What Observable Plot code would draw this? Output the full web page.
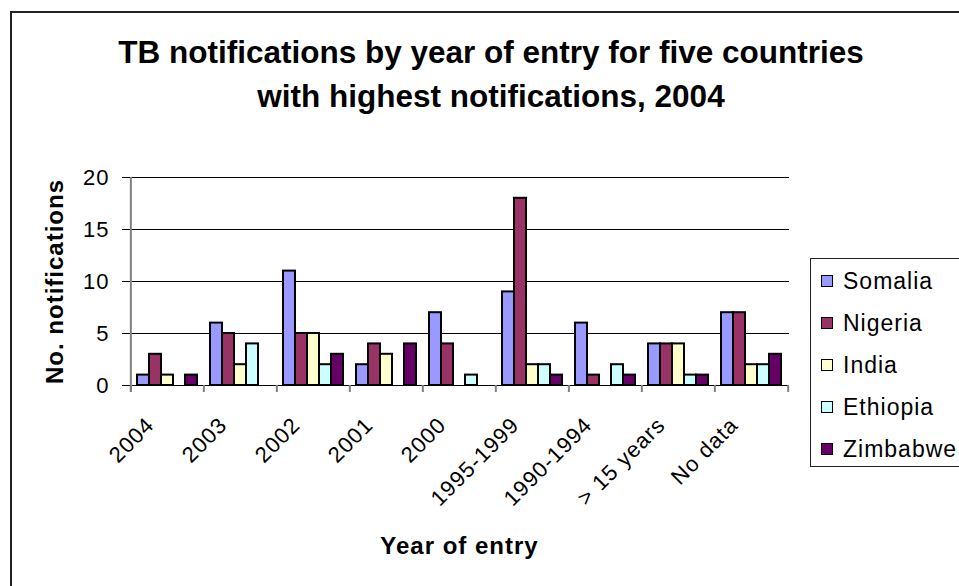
<!DOCTYPE html>
<html>
<head>
<meta charset="utf-8">
<script src="https://cdn.jsdelivr.net/npm/d3@7"></script>
<script src="https://cdn.jsdelivr.net/npm/@observablehq/plot@0.6"></script>
<style>
  html, body { margin: 0; padding: 0; background: #fff; }
  #wrap { position: relative; width: 959px; height: 586px; overflow: hidden; font-family: "Liberation Sans", Arial, sans-serif; }
  #frame { position: absolute; left: 10px; top: 11px; width: 1000px; height: 1000px; border: 2px solid #222; box-sizing: border-box; }
  #title { position: absolute; left: 10px; width: 962px; top: 30px; text-align: center; font-weight: bold; font-size: 31.5px; line-height: 44px; color: #000; }
  #chart { position: absolute; left: 0; top: 0; }
  #legend { position: absolute; left: 810px; top: 258px; width: 170px; height: 209px; border: 1.5px solid #222; box-sizing: border-box; background: #fff; }
  .item { position: absolute; left: 10px; height: 24px; display: flex; align-items: center; font-size: 23px; letter-spacing: 1px; color: #000; }
  .sw { width: 12px; height: 12px; border: 1.5px solid #000; box-sizing: border-box; margin-right: 10px; }
  #chart svg text { letter-spacing: 1px; }
</style>
</head>
<body>
<div id="wrap">
  <div id="frame"></div>
  <div id="chart"></div>
  <div id="title">TB notifications by year of entry for five countries<br>with highest notifications, 2004</div>
  <div id="legend"></div>
</div>
<script>
// Year-of-entry groups and the five countries shown in each group
const categories = ["2004", "2003", "2002", "2001", "2000", "1995-1999", "1990-1994", "> 15 years", "No data"];
const countries = ["Somalia", "Nigeria", "India", "Ethiopia", "Zimbabwe"];
const colors = ["#9999ff", "#993366", "#ffffcc", "#ccffff", "#660066"];

// Notifications per group, one array per country
const somalia  = [1, 6, 11, 2, 7, 9, 6, 4, 7];
const nigeria  = [3, 5, 5, 4, 4, 18, 1, 4, 7];
const india    = [1, 2, 5, 3, 0, 2, 0, 4, 2];
const ethiopia = [0, 4, 2, 0, 1, 2, 2, 1, 2];
const zimbabwe = [1, 0, 3, 4, 0, 1, 1, 1, 3];
const series = [somalia, nigeria, india, ethiopia, zimbabwe];

const yTicks = [0, 5, 10, 15, 20];

// Long-format rows for the bars
const rows = [];
series.forEach((vals, s) => vals.forEach((v, i) => rows.push({category: categories[i], country: countries[s], value: v})));

const W = 959, H = 586;
const mL = 129, mR = 170, mT = 177, mB = 201;
const plotW = W - mL - mR, plotH = H - mT - mB;
const step = plotW / categories.length;
const barW = 12;

const marks = [
  Plot.gridY(yTicks, {stroke: "#000", strokeOpacity: 1, strokeWidth: 1})
];

// One bar mark per country, each occupying its own slot inside the group band
countries.forEach((c, s) => {
  marks.push(Plot.barY(rows.filter(d => d.country === c && d.value > 0), {
    x: "category",
    y: "value",
    fill: colors[s],
    stroke: "#000",
    strokeWidth: 2,
    insetLeft: s * barW,
    insetRight: (countries.length - 1 - s) * barW
  }));
});

marks.push(
  // vertical axis line
  Plot.tickX([categories[0]], {x: d => d, dx: -step / 2, stroke: "#808080", strokeWidth: 2, insetBottom: -7}),
  // category boundary ticks below the baseline
  Plot.tickX(categories, {x: d => d, dx: -step / 2, stroke: "#808080", strokeWidth: 2, insetTop: plotH, insetBottom: -7}),
  Plot.tickX([categories[categories.length - 1]], {x: d => d, dx: step / 2, stroke: "#808080", strokeWidth: 2, insetTop: plotH, insetBottom: -7}),
  Plot.axisY({ticks: yTicks, tickSize: 7, tickPadding: 13, fontSize: 22, color: "#000", label: null}),
  // rotated category labels
  Plot.text(categories, {x: d => d, text: d => d, frameAnchor: "bottom", rotate: -45, textAnchor: "end", lineAnchor: "middle", dx: -17, dy: 36, fontSize: 22, fill: "#000"}),
  // axis titles
  Plot.text(["No. notifications"], {text: d => d, frameAnchor: "left", textAnchor: "middle", lineAnchor: "middle", dx: -74, rotate: -90, fontSize: 24, fontWeight: "bold", fill: "#000"}),
  Plot.text(["Year of entry"], {text: d => d, frameAnchor: "bottom", textAnchor: "middle", lineAnchor: "middle", dy: 161, fontSize: 24, fontWeight: "bold", fill: "#000"})
);

const chart = Plot.plot({
  width: W,
  height: H,
  marginLeft: mL,
  marginRight: mR,
  marginTop: mT,
  marginBottom: mB,
  style: {fontFamily: "'Liberation Sans', Arial, sans-serif", background: "transparent", color: "#000", overflow: "visible"},
  x: {type: "band", domain: categories, paddingInner: 0.182, paddingOuter: 0.091, axis: null},
  y: {domain: [0, 20], axis: null},
  marks
});
document.getElementById("chart").appendChild(chart);

// Legend
const legend = document.getElementById("legend");
countries.forEach((c, s) => {
  const item = document.createElement("div");
  item.className = "item";
  item.style.top = (10 + s * 42) + "px";
  const sw = document.createElement("div");
  sw.className = "sw";
  sw.style.background = colors[s];
  const label = document.createElement("span");
  label.textContent = c;
  item.appendChild(sw);
  item.appendChild(label);
  legend.appendChild(item);
});
</script>
</body>
</html>
